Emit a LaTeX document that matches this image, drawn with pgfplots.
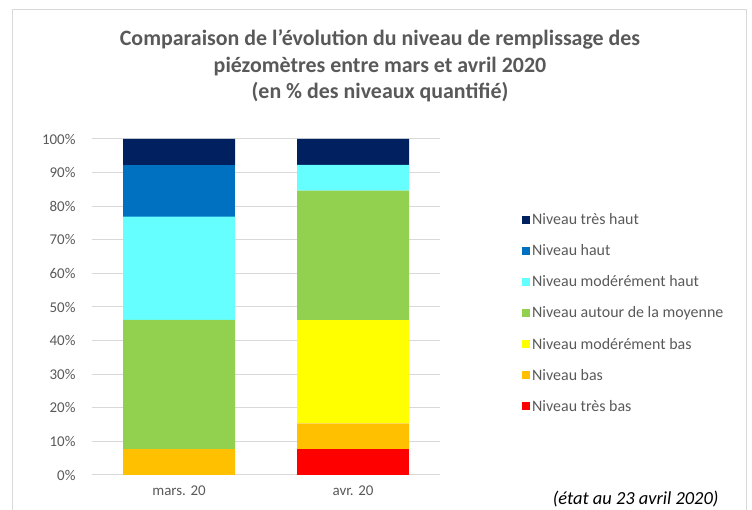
\documentclass[border=0pt]{standalone}
\usepackage{pgfplots}
\pgfplotsset{compat=1.18}
\usepackage{fontspec}
\setmainfont{Carlito}
\definecolor{txt}{HTML}{595959}
\definecolor{gridc}{HTML}{D9D9D9}
\definecolor{cnavy}{HTML}{002060}
\definecolor{cblue}{HTML}{0070C0}
\definecolor{ccyan}{HTML}{66FFFF}
\definecolor{cgreen}{HTML}{92D050}
\definecolor{cyellow}{HTML}{FFFF00}
\definecolor{corange}{HTML}{FFC000}
\definecolor{cred}{HTML}{FF0000}
\begin{document}
\begin{tikzpicture}
\useasboundingbox (0bp,0bp) rectangle (752bp,510bp);
\draw[gridc, line width=1bp] (12bp,0bp) -- (12bp,500bp) -- (746bp,500bp) -- (746bp,0bp);
\node[font=\fontsize{22}{26.5}\selectfont\bfseries, text=txt, align=center] at (380bp,444bp)
 {Comparaison de l'évolution du niveau de remplissage des\\piézomètres entre mars et avril 2020\\(en \% des niveaux quantifié)};
\begin{axis}[
  at={(92bp,35bp)}, anchor=south west,
  scale only axis, width=348bp, height=336bp,
  ybar stacked, bar width=112bp,
  xmin=-0.5, xmax=1.5, ymin=0, ymax=100,
  xtick={0,1}, xticklabels={mars. 20, avr. 20},
  ytick={0,10,...,100},
  yticklabel={\pgfmathprintnumber{\tick}\%},
  /pgf/number format/assume math mode=true,
  ymajorgrids, grid style={gridc, line width=1bp},
  axis x line*=bottom, axis y line*=left,
  x axis line style={gridc, line width=1bp, -},
  y axis line style={draw=none},
  major tick length=0pt,
  tick label style={font=\fontsize{15}{17}\selectfont, text=txt},
  yticklabel style={xshift=-13bp},
  xticklabel style={yshift=-7bp},
  legend style={at={(1.227,0.79)}, anchor=north west, draw=none, fill=none,
    font=\fontsize{16}{18}\selectfont, text=txt, row sep=14.5bp,
    /tikz/every even column/.append style={column sep=2bp}},
  legend cell align=left,
  reverse legend,
  legend image code/.code={\fill[#1] (0bp,-4bp) rectangle (8bp,4bp);},
]
\addplot[fill=cred, draw=none] coordinates {(0,0) (1,7.69)};
\addplot[fill=corange, draw=none] coordinates {(0,7.69) (1,7.69)};
\addplot[fill=cyellow, draw=none] coordinates {(0,0) (1,30.77)};
\addplot[fill=cgreen, draw=none] coordinates {(0,38.46) (1,38.46)};
\addplot[fill=ccyan, draw=none] coordinates {(0,30.77) (1,7.69)};
\addplot[fill=cblue, draw=none] coordinates {(0,15.38) (1,0)};
\addplot[fill=cnavy, draw=none] coordinates {(0,7.70) (1,7.70)};
\legend{Niveau très bas, Niveau bas, Niveau modérément bas, Niveau autour de la moyenne, Niveau modérément haut, Niveau haut, Niveau très haut}
\end{axis}
\node[font=\fontsize{18.5}{21}\selectfont\itshape, text=black, anchor=east] at (722bp,11bp) {(état au 23 avril 2020)};
\end{tikzpicture}
\end{document}
